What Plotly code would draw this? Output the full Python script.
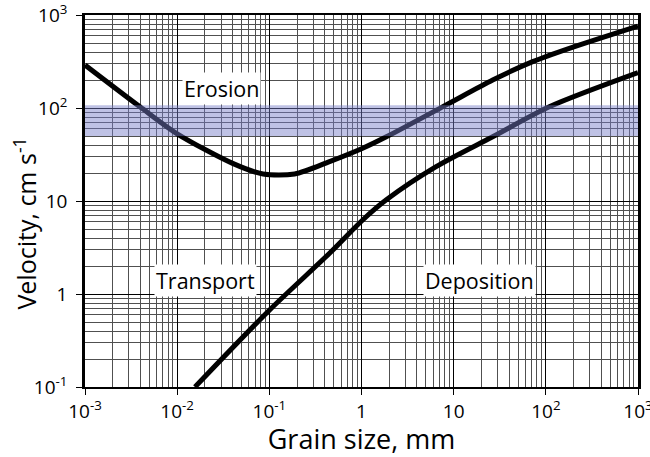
import numpy as np
import plotly.graph_objects as go

# Erosion (upper) curve: grain size (mm) vs velocity (cm/s)
erosion_x = [0.001, 0.00395, 0.0098, 0.040, 0.0855, 0.188, 0.45, 1.03, 1.86, 8.3, 26.5, 72, 180, 1000]
erosion_v = [290, 103, 53.5, 25.4, 19.5, 19.5, 26.5, 36.9, 49, 108, 200, 315, 438, 760]

# Deposition (lower) curve
deposition_x = [0.0156, 0.1, 0.45, 1.03, 1.86, 6.45, 26.5, 109, 1000]
deposition_v = [0.1, 0.67, 2.74, 6.25, 10.3, 23.4, 49, 103, 240]

# Shaded velocity band (cm/s)
band_low, band_high = 50, 107

# Region labels: (text, grain size, velocity)
region_labels = [("Erosion", 0.0305, 164), ("Transport", 0.0205, 1.38), ("Deposition", 19.0, 1.38)]

x_tickvals = [1e-3, 1e-2, 1e-1, 1, 10, 100, 1000]
x_ticktext = ["10<sup>-3</sup>", "10<sup>-2</sup>", "10<sup>-1</sup>", "1", "10", "10<sup>2</sup>", "10<sup>3</sup>"]
y_tickvals = [0.1, 1, 10, 100, 1000]
y_ticktext = ["10<sup>-1</sup>", "1", "10", "10<sup>2</sup>", "10<sup>3</sup>"]

FONT = "Open Sans"

fig = go.Figure()
fig.add_trace(go.Scatter(x=erosion_x, y=erosion_v, mode="lines",
                         line=dict(color="black", width=5, shape="spline", smoothing=0.8),
                         showlegend=False, hoverinfo="skip"))
fig.add_trace(go.Scatter(x=deposition_x, y=deposition_v, mode="lines",
                         line=dict(color="black", width=5, shape="spline", smoothing=0.8),
                         showlegend=False, hoverinfo="skip"))
fig.add_trace(go.Scatter(x=[1e-3, 1e3, 1e3, 1e-3, 1e-3], y=[band_low, band_low, band_high, band_high, band_low],
                         mode="lines", fill="toself", fillcolor="rgba(120,125,200,0.47)",
                         line=dict(width=0), showlegend=False, hoverinfo="skip"))

for text, gx, gv in region_labels:
    fig.add_annotation(x=np.log10(gx), y=np.log10(gv), text=text, showarrow=False,
                       font=dict(family=FONT, size=21.5, color="black"),
                       bgcolor="white", borderpad=1)

# y-axis title (placed slightly below the plot centre, as in the reference)
fig.add_annotation(xref="paper", yref="paper", x=-0.108, y=0.44, text="Velocity, cm s<sup>-1</sup>",
                   textangle=-90, showarrow=False, xanchor="center", yanchor="middle",
                   font=dict(family=FONT, size=25, color="black"))

axis_common = dict(
    type="log", showgrid=True, gridcolor="black", gridwidth=1.3,
    showline=True, linecolor="black", mirror=True,
    ticks="outside", ticklen=6, tickcolor="black",
    tickfont=dict(family=FONT, size=19, color="black"),
    minor=dict(dtick="D1", showgrid=True, gridcolor="#505050", gridwidth=1, ticks=""),
    zeroline=False, automargin=False, ticklabeloverflow="allow",
)

fig.update_xaxes(range=[-3.00001, 3.00001], tickmode="array", tickvals=x_tickvals, ticktext=x_ticktext,
                 title=dict(text="Grain size, mm", font=dict(family=FONT, size=27, color="black"), standoff=10),
                 linewidth=1.5, **axis_common)
fig.update_yaxes(range=[-1.00001, 3.00001], tickmode="array", tickvals=y_tickvals, ticktext=y_ticktext,
                 ticklabelstandoff=5, linewidth=2.5, **axis_common)

fig.update_layout(width=650, height=457, margin=dict(l=85, r=12, t=15, b=70),
                  paper_bgcolor="white", plot_bgcolor="white",
                  font=dict(family=FONT, color="black"))

fig.write_html("out.html")
